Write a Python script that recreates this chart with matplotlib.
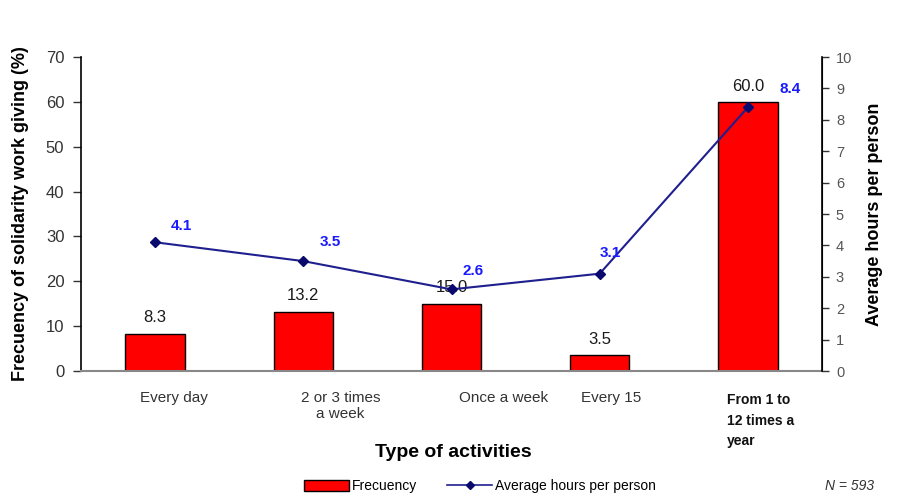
import matplotlib.pyplot as plt
from matplotlib.patches import Patch
from matplotlib.lines import Line2D

plt.rcParams['font.family'] = ['Liberation Sans', 'DejaVu Sans']

categories = ["Every day", "2 or 3 times\na week", "Once a week", "Every 15", "From 1 to\n12 times a\nyear"]
frecuency = [8.3, 13.2, 15.0, 3.5, 60.0]
avg_hours = [4.1, 3.5, 2.6, 3.1, 8.4]

x = list(range(len(categories)))

fig = plt.figure(figsize=(8.97, 4.95), dpi=100)
ax = fig.add_axes([0.0903, 0.2505, 0.8261, 0.6343])
ax2 = ax.twinx()

ax.bar(x, frecuency, width=0.4, color='#ff0000', edgecolor='black', linewidth=1.0, zorder=2)
for xi, v in zip(x, frecuency):
    ax.annotate(f"{v:.1f}", (xi, v), xytext=(0, 6), textcoords='offset points',
                ha='center', va='bottom', fontsize=12, color='#1a1a1a')

ax2.plot(x, avg_hours, color='#1f1f8f', lw=1.5, marker='D', ms=5.5,
         mfc='#0a0a6e', mec='#0a0a6e', zorder=3)
# label offsets in points (dx, dy) for each point of the line
hour_offsets = [(11, 12), (12, 14), (8, 13), (0, 15), (23, 13)]
for xi, v, (dx, dy) in zip(x, avg_hours, hour_offsets):
    ax2.annotate(f"{v:.1f}", (xi, v), xytext=(dx, dy), textcoords='offset points',
                 ha='left', va='center', fontsize=11, color='#1a1aff', fontweight='bold')

ax.set_xlim(-0.5, 4.5)
ax.set_ylim(0, 70)
ax.set_yticks(range(0, 71, 10))
ax2.set_ylim(0, 10)
ax2.set_yticks(range(0, 11))

ax.spines['top'].set_visible(False)
ax2.spines['top'].set_visible(False)
ax.spines['bottom'].set_color('#888888')
ax.spines['bottom'].set_linewidth(1.5)
ax.spines['left'].set_linewidth(1.2)
ax2.spines['right'].set_linewidth(1.2)
ax2.spines['left'].set_visible(False)
ax2.spines['bottom'].set_visible(False)

ax.tick_params(axis='y', labelsize=12, colors='#333333', length=6, width=1, pad=6)
ax2.tick_params(axis='y', labelsize=10.5, labelcolor='#555555', color='#333333', length=5, width=1, pad=5)
ax.set_xticks([])

# category labels, nudged the way the original layout had them
label_dx = [0.13, 0.25, 0.35, 0.08, -0.14]
for xi, lab, dx in zip(x, categories, label_dx):
    if xi == len(categories) - 1:
        ax.text(xi + dx, -0.07, lab, transform=ax.get_xaxis_transform(), ha='left', va='top',
                fontsize=10, fontweight='bold', linespacing=1.6, color='#111111',
                family=['Liberation Sans Narrow', 'Liberation Sans'])
    else:
        ax.text(xi + dx, -0.065, lab, transform=ax.get_xaxis_transform(), ha='center', va='top',
                fontsize=11, color='#333333', linespacing=1.1)

ax.set_ylabel("Frecuency of solidarity work giving (%)", fontsize=13, fontweight='bold', labelpad=12)
ax2.set_ylabel("Average hours per person", fontsize=13, fontweight='bold', labelpad=10)
fig.text(0.505, 0.085, "Type of activities", ha='center', va='center', fontsize=14, fontweight='bold')

handles = [Patch(facecolor='#ff0000', edgecolor='black', label='Frecuency'),
           Line2D([0], [0], color='#1f1f8f', lw=1.2, marker='D', ms=4,
                  mfc='#0a0a6e', mec='#0a0a6e', label='Average hours per person')]
fig.legend(handles=handles, loc='center', bbox_to_anchor=(0.535, 0.018), ncol=2, frameon=False,
           fontsize=10, handlelength=3.2, handleheight=0.8, handletextpad=0.2, columnspacing=2.2)
fig.text(0.975, 0.018, "N = 593", ha='right', va='center', fontsize=10, style='italic', color='#333333')

fig.savefig("out.png", dpi=100)
